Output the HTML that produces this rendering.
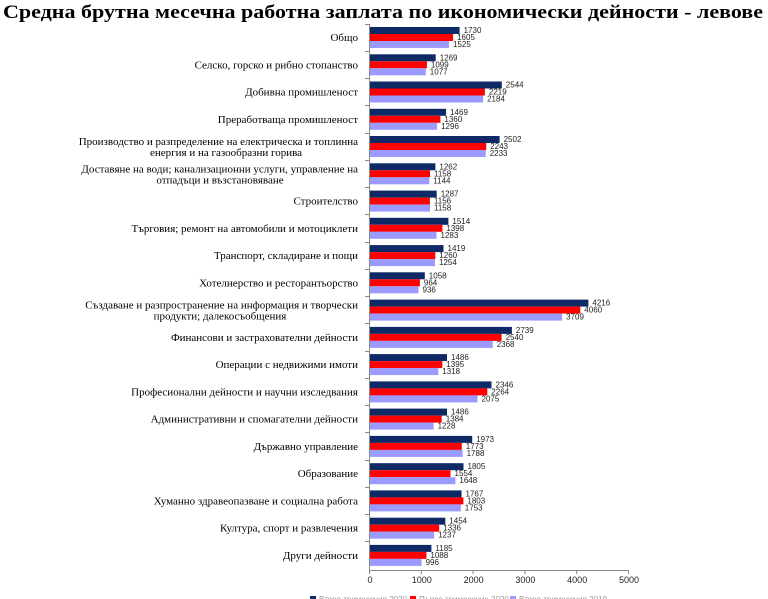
<!DOCTYPE html>
<html><head><meta charset="utf-8"><style>
html,body{margin:0;padding:0;background:#fff;width:768px;height:599px;overflow:hidden}
svg{display:block}
.t{font-family:"Liberation Serif",serif;font-size:11px;fill:#000}
.v{font-family:"Liberation Sans",sans-serif;font-size:8px;fill:#222}
.ax{font-family:"Liberation Sans",sans-serif;font-size:9px;fill:#222}
.n{fill:#0e2a66}.r{fill:#ff0000}.l{fill:#9a9aff}
</style></head><body>
<svg width="768" height="599" xmlns="http://www.w3.org/2000/svg">
<text x="3" y="18" font-family="Liberation Serif,serif" font-size="19" font-weight="bold" textLength="760" lengthAdjust="spacingAndGlyphs">Средна брутна месечна работна заплата по икономически дейности - левове</text>
<g stroke="#888" stroke-width="1">
<line x1="369.5" y1="24" x2="369.5" y2="570"/>
<line x1="369" y1="570.5" x2="629" y2="570.5"/>
<line x1="369.5" y1="570" x2="369.5" y2="574"/><line x1="421.3" y1="570" x2="421.3" y2="574"/><line x1="473.1" y1="570" x2="473.1" y2="574"/><line x1="524.9" y1="570" x2="524.9" y2="574"/><line x1="576.7" y1="570" x2="576.7" y2="574"/><line x1="628.5" y1="570" x2="628.5" y2="574"/>
<line x1="365" y1="24.5" x2="369" y2="24.5"/><line x1="365" y1="51.5" x2="369" y2="51.5"/><line x1="365" y1="78.5" x2="369" y2="78.5"/><line x1="365" y1="105.5" x2="369" y2="105.5"/><line x1="365" y1="133.5" x2="369" y2="133.5"/><line x1="365" y1="160.5" x2="369" y2="160.5"/><line x1="365" y1="187.5" x2="369" y2="187.5"/><line x1="365" y1="214.5" x2="369" y2="214.5"/><line x1="365" y1="242.5" x2="369" y2="242.5"/><line x1="365" y1="269.5" x2="369" y2="269.5"/><line x1="365" y1="296.5" x2="369" y2="296.5"/><line x1="365" y1="323.5" x2="369" y2="323.5"/><line x1="365" y1="351.5" x2="369" y2="351.5"/><line x1="365" y1="378.5" x2="369" y2="378.5"/><line x1="365" y1="405.5" x2="369" y2="405.5"/><line x1="365" y1="432.5" x2="369" y2="432.5"/><line x1="365" y1="460.5" x2="369" y2="460.5"/><line x1="365" y1="487.5" x2="369" y2="487.5"/><line x1="365" y1="514.5" x2="369" y2="514.5"/><line x1="365" y1="541.5" x2="369" y2="541.5"/>
</g>
<g class="ax" text-anchor="middle">
<text x="370" y="583">0</text><text x="421.8" y="583">1000</text><text x="473.6" y="583">2000</text><text x="525.4" y="583">3000</text><text x="577.2" y="583">4000</text><text x="629" y="583">5000</text>
</g>

<g transform="translate(0,27)"><rect class="n" x="370" y="0" width="89.6" height="7"/><rect class="r" x="370" y="7" width="83.1" height="7"/><rect class="l" x="370" y="14" width="79" height="7"/><text class="v" x="463.6" y="6">1730</text><text class="v" x="457.1" y="13">1605</text><text class="v" x="453" y="20">1525</text><text class="t" x="358" y="14" text-anchor="end">Общо</text></g>
<g transform="translate(0,54.3)"><rect class="n" x="370" y="0" width="65.7" height="7"/><rect class="r" x="370" y="7" width="56.9" height="7"/><rect class="l" x="370" y="14" width="55.8" height="7"/><text class="v" x="439.7" y="6">1269</text><text class="v" x="430.9" y="13">1099</text><text class="v" x="429.8" y="20">1077</text><text class="t" x="358" y="14" text-anchor="end">Селско, горско и рибно стопанство</text></g>
<g transform="translate(0,81.5)"><rect class="n" x="370" y="0" width="131.8" height="7"/><rect class="r" x="370" y="7" width="114.9" height="7"/><rect class="l" x="370" y="14" width="113.1" height="7"/><text class="v" x="505.8" y="6">2544</text><text class="v" x="488.9" y="13">2219</text><text class="v" x="487.1" y="20">2184</text><text class="t" x="358" y="14" text-anchor="end">Добивна промишленост</text></g>
<g transform="translate(0,108.8)"><rect class="n" x="370" y="0" width="76.1" height="7"/><rect class="r" x="370" y="7" width="70.4" height="7"/><rect class="l" x="370" y="14" width="67.1" height="7"/><text class="v" x="450.1" y="6">1469</text><text class="v" x="444.4" y="13">1360</text><text class="v" x="441.1" y="20">1296</text><text class="t" x="358" y="14" text-anchor="end">Преработваща промишленост</text></g>
<g transform="translate(0,136)"><rect class="n" x="370" y="0" width="129.6" height="7"/><rect class="r" x="370" y="7" width="116.2" height="7"/><rect class="l" x="370" y="14" width="115.7" height="7"/><text class="v" x="503.6" y="6">2502</text><text class="v" x="490.2" y="13">2243</text><text class="v" x="489.7" y="20">2233</text><text class="t" x="358" y="9" text-anchor="end">Производство и разпределение на електрическа и топлинна</text><text class="t" x="226" y="20" text-anchor="middle">енергия и на газообразни горива</text></g>
<g transform="translate(0,163.3)"><rect class="n" x="370" y="0" width="65.4" height="7"/><rect class="r" x="370" y="7" width="60" height="7"/><rect class="l" x="370" y="14" width="59.3" height="7"/><text class="v" x="439.4" y="6">1262</text><text class="v" x="434" y="13">1158</text><text class="v" x="433.3" y="20">1144</text><text class="t" x="358" y="9" text-anchor="end">Доставяне на води; канализационни услуги, управление на</text><text class="t" x="220" y="20" text-anchor="middle">отпадъци и възстановяване</text></g>
<g transform="translate(0,190.6)"><rect class="n" x="370" y="0" width="66.7" height="7"/><rect class="r" x="370" y="7" width="59.9" height="7"/><rect class="l" x="370" y="14" width="60" height="7"/><text class="v" x="440.7" y="6">1287</text><text class="v" x="433.9" y="13">1156</text><text class="v" x="434" y="20">1158</text><text class="t" x="358" y="14" text-anchor="end">Строителство</text></g>
<g transform="translate(0,217.8)"><rect class="n" x="370" y="0" width="78.4" height="7"/><rect class="r" x="370" y="7" width="72.4" height="7"/><rect class="l" x="370" y="14" width="66.5" height="7"/><text class="v" x="452.4" y="6">1514</text><text class="v" x="446.4" y="13">1398</text><text class="v" x="440.5" y="20">1283</text><text class="t" x="358" y="14" text-anchor="end">Търговия; ремонт на автомобили и мотоциклети</text></g>
<g transform="translate(0,245.1)"><rect class="n" x="370" y="0" width="73.5" height="7"/><rect class="r" x="370" y="7" width="65.3" height="7"/><rect class="l" x="370" y="14" width="65" height="7"/><text class="v" x="447.5" y="6">1419</text><text class="v" x="439.3" y="13">1260</text><text class="v" x="439" y="20">1254</text><text class="t" x="358" y="14" text-anchor="end">Транспорт, складиране и пощи</text></g>
<g transform="translate(0,272.3)"><rect class="n" x="370" y="0" width="54.8" height="7"/><rect class="r" x="370" y="7" width="49.9" height="7"/><rect class="l" x="370" y="14" width="48.5" height="7"/><text class="v" x="428.8" y="6">1058</text><text class="v" x="423.9" y="13">964</text><text class="v" x="422.5" y="20">936</text><text class="t" x="358" y="14" text-anchor="end">Хотелиерство и ресторантьорство</text></g>
<g transform="translate(0,299.6)"><rect class="n" x="370" y="0" width="218.4" height="7"/><rect class="r" x="370" y="7" width="210.3" height="7"/><rect class="l" x="370" y="14" width="192.1" height="7"/><text class="v" x="592.4" y="6">4216</text><text class="v" x="584.3" y="13">4060</text><text class="v" x="566.1" y="20">3709</text><text class="t" x="358" y="9" text-anchor="end">Създаване и разпространение на информация и творчески</text><text class="t" x="220" y="20" text-anchor="middle">продукти; далекосъобщения</text></g>
<g transform="translate(0,326.9)"><rect class="n" x="370" y="0" width="141.9" height="7"/><rect class="r" x="370" y="7" width="131.6" height="7"/><rect class="l" x="370" y="14" width="122.7" height="7"/><text class="v" x="515.9" y="6">2739</text><text class="v" x="505.6" y="13">2540</text><text class="v" x="496.7" y="20">2368</text><text class="t" x="358" y="14" text-anchor="end">Финансови и застрахователни дейности</text></g>
<g transform="translate(0,354.1)"><rect class="n" x="370" y="0" width="77" height="7"/><rect class="r" x="370" y="7" width="72.3" height="7"/><rect class="l" x="370" y="14" width="68.3" height="7"/><text class="v" x="451" y="6">1486</text><text class="v" x="446.3" y="13">1395</text><text class="v" x="442.3" y="20">1318</text><text class="t" x="358" y="14" text-anchor="end">Операции с недвижими имоти</text></g>
<g transform="translate(0,381.4)"><rect class="n" x="370" y="0" width="121.5" height="7"/><rect class="r" x="370" y="7" width="117.3" height="7"/><rect class="l" x="370" y="14" width="107.5" height="7"/><text class="v" x="495.5" y="6">2346</text><text class="v" x="491.3" y="13">2264</text><text class="v" x="481.5" y="20">2075</text><text class="t" x="358" y="14" text-anchor="end">Професионални дейности и научни изследвания</text></g>
<g transform="translate(0,408.6)"><rect class="n" x="370" y="0" width="77" height="7"/><rect class="r" x="370" y="7" width="71.7" height="7"/><rect class="l" x="370" y="14" width="63.6" height="7"/><text class="v" x="451" y="6">1486</text><text class="v" x="445.7" y="13">1384</text><text class="v" x="437.6" y="20">1228</text><text class="t" x="358" y="14" text-anchor="end">Административни и спомагателни дейности</text></g>
<g transform="translate(0,435.9)"><rect class="n" x="370" y="0" width="102.2" height="7"/><rect class="r" x="370" y="7" width="91.8" height="7"/><rect class="l" x="370" y="14" width="92.6" height="7"/><text class="v" x="476.2" y="6">1973</text><text class="v" x="465.8" y="13">1773</text><text class="v" x="466.6" y="20">1788</text><text class="t" x="358" y="14" text-anchor="end">Държавно управление</text></g>
<g transform="translate(0,463.2)"><rect class="n" x="370" y="0" width="93.5" height="7"/><rect class="r" x="370" y="7" width="80.5" height="7"/><rect class="l" x="370" y="14" width="85.4" height="7"/><text class="v" x="467.5" y="6">1805</text><text class="v" x="454.5" y="13">1554</text><text class="v" x="459.4" y="20">1648</text><text class="t" x="358" y="14" text-anchor="end">Образование</text></g>
<g transform="translate(0,490.4)"><rect class="n" x="370" y="0" width="91.5" height="7"/><rect class="r" x="370" y="7" width="93.4" height="7"/><rect class="l" x="370" y="14" width="90.8" height="7"/><text class="v" x="465.5" y="6">1767</text><text class="v" x="467.4" y="13">1803</text><text class="v" x="464.8" y="20">1753</text><text class="t" x="358" y="14" text-anchor="end">Хуманно здравеопазване и социална работа</text></g>
<g transform="translate(0,517.7)"><rect class="n" x="370" y="0" width="75.3" height="7"/><rect class="r" x="370" y="7" width="69.2" height="7"/><rect class="l" x="370" y="14" width="64.1" height="7"/><text class="v" x="449.3" y="6">1454</text><text class="v" x="443.2" y="13">1336</text><text class="v" x="438.1" y="20">1237</text><text class="t" x="358" y="14" text-anchor="end">Култура, спорт и развлечения</text></g>
<g transform="translate(0,544.9)"><rect class="n" x="370" y="0" width="61.4" height="7"/><rect class="r" x="370" y="7" width="56.4" height="7"/><rect class="l" x="370" y="14" width="51.6" height="7"/><text class="v" x="435.4" y="6">1185</text><text class="v" x="430.4" y="13">1088</text><text class="v" x="425.6" y="20">996</text><text class="t" x="358" y="14" text-anchor="end">Други дейности</text></g>

<g font-family="Liberation Sans,sans-serif" font-size="8" fill="#999">
<rect x="310" y="596" width="6" height="3" fill="#0e2a66"/><text x="319" y="602">Второ тримесечие 2020</text>
<rect x="410" y="596" width="6" height="3" fill="#ff0000"/><text x="419" y="602">Първо тримесечие 2020</text>
<rect x="510" y="596" width="6" height="3" fill="#9a9aff"/><text x="519" y="602">Второ тримесечие 2019</text>
</g>
</svg>
</body></html>
